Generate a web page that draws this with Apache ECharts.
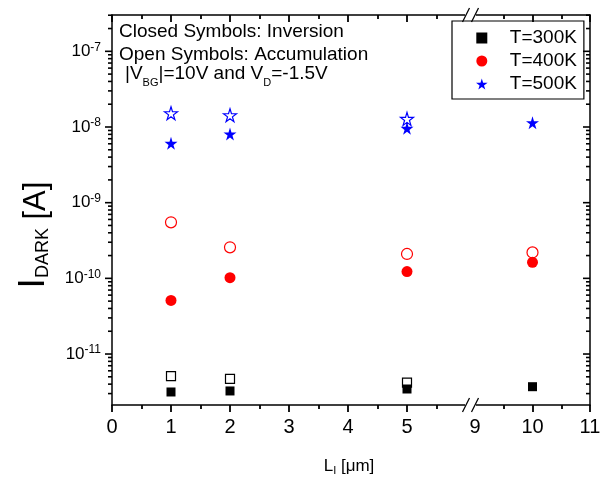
<!DOCTYPE html>
<html>
<head>
<meta charset="utf-8">
<script src="https://cdn.jsdelivr.net/npm/echarts@6/dist/echarts.min.js"></script>
<style>
html, body { margin: 0; padding: 0; background: #fff; }
#chart { width: 605px; height: 480px; }
</style>
</head>
<body>
<div id="chart"></div>
<script>
// channel lengths in um
const lengths = [1, 2, 5, 10];
// closed = inversion, open = accumulation
const closed300 = [3.15e-12, 3.25e-12, 3.45e-12, 3.7e-12];
const open300 = [5.1e-12, 4.7e-12, 4.2e-12, null];
const closed400 = [5.1e-11, 1.02e-10, 1.23e-10, 1.63e-10];
const open400 = [5.5e-10, 2.57e-10, 2.1e-10, 2.2e-10];
const closed500 = [6.1e-9, 8.1e-9, 9.6e-9, 1.14e-8];
const open500 = [1.52e-8, 1.43e-8, 1.28e-8, null];

const legendNames = ['T=300K', 'T=400K', 'T=500K'];
const xLeftRange = [0, 6];
const xRightRange = [9, 11];
const yMin = 2.12e-12;
const yMax = 3.02e-7;
const minorMantissas = [2, 3, 4, 5, 6, 7, 8, 9];
const decades = [-12, -11, -10, -9, -8, -7];

const FONT = 'Liberation Sans, Arial, sans-serif';
const STAR = 'path://M50,0 L61,35 L98,35 L68,57 L79,91 L50,70 L21,91 L32,57 L2,35 L39,35 Z';
const SQUARE = 'path://M0,0 L10,0 L10,10 L0,10 Z';
const lineStyle = { color: '#000', width: 1.5 };
const tickStyle = { color: '#000', width: 1.8 };

// points that fall on the left (0) or right (1) part of the broken axis
function pts(vals, side) {
  const out = [];
  lengths.forEach((x, i) => {
    if (vals[i] == null) return;
    const onLeft = x <= xLeftRange[1];
    if ((side === 0) === onLeft) out.push([x, vals[i]]);
  });
  return out;
}

const series = [];
function addSeries(name, vals, symbol, size, color, open) {
  [0, 1].forEach(side => {
    series.push({
      type: 'scatter',
      name: name,
      xAxisIndex: side * 2,
      yAxisIndex: side,
      symbol: symbol,
      symbolSize: size,
      z: open ? 2 : 3,
      silent: true,
      data: pts(vals, side),
      itemStyle: open
        ? { color: '#fff', borderColor: color, borderWidth: 1.2, opacity: 1 }
        : { color: color, opacity: 1 }
    });
  });
}
addSeries('T=300K', closed300, SQUARE, 9, '#000', false);
addSeries('T=400K', closed400, 'circle', 11, '#ff0000', false);
addSeries('T=500K', closed500, STAR, 13, '#0000ff', false);
addSeries('acc300', open300, SQUARE, 9, '#000', true);
addSeries('acc400', open400, 'circle', 11, '#ff0000', true);
addSeries('acc500', open500, STAR, 13, '#0000ff', true);

function xAxis(grid, range, pos) {
  const bottom = pos === 'bottom';
  return {
    type: 'value', gridIndex: grid, position: pos, min: range[0], max: range[1], interval: 1,
    axisLine: { show: true, onZero: false, lineStyle: lineStyle },
    axisTick: { show: true, inside: !bottom, length: 7, lineStyle: tickStyle },
    minorTick: { show: true, splitNumber: 2, length: 4, lineStyle: tickStyle },
    splitLine: { show: false },
    minorSplitLine: { show: false },
    axisLabel: {
      show: bottom, margin: 12, color: '#000', fontSize: 20, fontFamily: FONT,
      formatter: v => (v === 6 ? '' : String(v))
    }
  };
}

// y ticks are drawn below as graphics (log minor ticks), so the axis only gives line + labels
function yAxis(grid, pos) {
  const left = pos === 'left';
  return {
    type: 'log', logBase: 10, gridIndex: grid, position: pos, min: yMin, max: yMax,
    axisLine: { show: true, lineStyle: lineStyle },
    axisTick: { show: false },
    splitLine: { show: false },
    axisLabel: {
      show: left, margin: 11, color: '#000', fontFamily: FONT,
      formatter: v => {
        const e = Math.log10(v);
        if (Math.abs(e - Math.round(e)) > 1e-6) return '';
        return '{b|10}{s|' + Math.round(e) + '}';
      },
      rich: {
        b: { fontSize: 17, lineHeight: 20, fontFamily: FONT, color: '#000' },
        s: { fontSize: 12, lineHeight: 6, verticalAlign: 'top', fontFamily: FONT, color: '#000' }
      }
    }
  };
}

const chart = echarts.init(document.getElementById('chart'));
chart.setOption({
  animation: false,
  backgroundColor: '#fff',
  grid: [
    { left: 112, right: 139, top: 15, bottom: 75, outerBoundsMode: 'none' },
    { left: 475, right: 15, top: 15, bottom: 75, outerBoundsMode: 'none' }
  ],
  xAxis: [
    xAxis(0, xLeftRange, 'bottom'),
    xAxis(0, xLeftRange, 'top'),
    xAxis(1, xRightRange, 'bottom'),
    xAxis(1, xRightRange, 'top')
  ],
  yAxis: [yAxis(0, 'left'), yAxis(1, 'right')],
  legend: {
    data: legendNames,
    orient: 'vertical',
    left: 452, top: 21,
    itemWidth: 46, itemHeight: 11, itemGap: 3,
    padding: [7, 7, 5, 24],
    borderColor: '#000', borderWidth: 1.2,
    selectedMode: false,
    textStyle: { fontSize: 19, lineHeight: 20, color: '#000', fontFamily: FONT }
  },
  series: series
});

// axis break marks, log ticks, labels and titles
const px0 = chart.convertToPixel({ xAxisIndex: 0 }, xLeftRange[0]);
const px6 = chart.convertToPixel({ xAxisIndex: 0 }, xLeftRange[1]);
const px9 = chart.convertToPixel({ xAxisIndex: 2 }, xRightRange[0]);
const px11 = chart.convertToPixel({ xAxisIndex: 2 }, xRightRange[1]);
const yb = chart.convertToPixel({ yAxisIndex: 0 }, yMin);
const yt = chart.convertToPixel({ yAxisIndex: 0 }, yMax);

const marks = [];
function yTick(v, len) {
  const y = chart.convertToPixel({ yAxisIndex: 0 }, v);
  // left ticks point out, right ticks point in
  marks.push({ type: 'line', z: 2, shape: { x1: px0 - len, y1: y, x2: px0, y2: y },
    style: { stroke: '#000', lineWidth: 1.6 } });
  marks.push({ type: 'line', z: 2, shape: { x1: px11 - len, y1: y, x2: px11, y2: y },
    style: { stroke: '#000', lineWidth: 1.6 } });
}
decades.forEach(d => {
  const major = Math.pow(10, d);
  if (major > yMin && major < yMax) yTick(major, 7);
  minorMantissas.forEach(m => {
    const v = m * major;
    if (v > yMin && v < yMax) yTick(v, 4);
  });
});

[[yb, yb - 1, 10], [yt, yt - 1, 9]].forEach(([y, ry, rh]) => {
  marks.push({ type: 'rect', z: 3, shape: { x: px6 - 1, y: ry, width: px9 - px6 + 2, height: rh },
    style: { fill: '#fff' } });
  [px6, px9].forEach(px => marks.push({ type: 'line', z: 3,
    shape: { x1: px - 3.5, y1: y + 7, x2: px + 3.5, y2: y - 7 },
    style: { stroke: '#000', lineWidth: 1.3 } }));
});

const textStyle = (text, x, y, extra) => Object.assign({
  type: 'text', z: 5, x: x, y: y,
  style: Object.assign({ text: text, fill: '#000', font: '19px ' + FONT,
    textAlign: 'left', textVerticalAlign: 'middle' }, extra || {})
});

marks.push(textStyle('Closed Symbols: Inversion', 119, 32));
marks.push(textStyle('Open Symbols: Accumulation', 119, 55));
marks.push(textStyle('{m||V}{s|BG}{m||=10V and V}{s|D}{m|=-1.5V}', 125, 74, {
  rich: {
    m: { fontSize: 19, lineHeight: 28, fontFamily: FONT, fill: '#000' },
    s: { fontSize: 11, lineHeight: 5, verticalAlign: 'bottom', fontFamily: FONT, fill: '#000' }
  }
}));
marks.push(textStyle('{m|L}{s|I}{m| [\u03bcm]}', 349, 466, {
  textAlign: 'center',
  rich: {
    m: { fontSize: 17, lineHeight: 20, fontFamily: FONT, fill: '#000' },
    s: { fontSize: 11, lineHeight: 8, verticalAlign: 'bottom', fontFamily: FONT, fill: '#000' }
  }
}));
marks.push({
  type: 'text', z: 5, x: 39, y: 235, rotation: Math.PI / 2,
  style: {
    text: '{i|I}{d|DARK}{a| [A]}', fill: '#000', textAlign: 'center', textVerticalAlign: 'middle',
    rich: {
      i: { fontSize: 37, lineHeight: 25.6, verticalAlign: 'bottom', fontFamily: FONT, fill: '#000' },
      d: { fontSize: 18, lineHeight: 12.5, verticalAlign: 'bottom', fontFamily: FONT, fill: '#000' },
      a: { fontSize: 31, lineHeight: 21.5, verticalAlign: 'bottom', fontFamily: FONT, fill: '#000' }
    }
  }
});

chart.setOption({ graphic: { elements: marks } });
</script>
</body>
</html>
